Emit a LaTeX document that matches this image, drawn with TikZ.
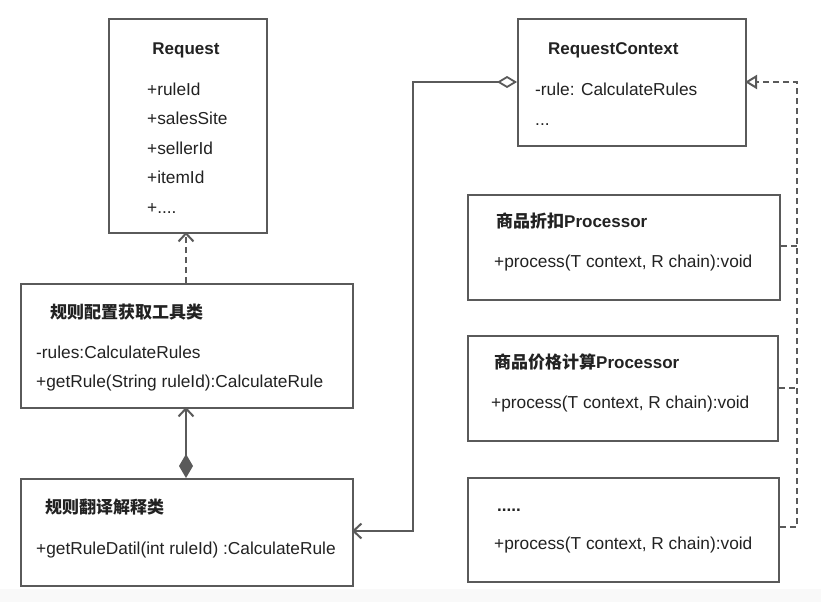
\documentclass[tikz,border=0pt]{standalone}
\usepackage{fontspec}
\setmainfont{Liberation Sans}
\newfontfamily\cjk{Noto Sans CJK SC}
\usetikzlibrary{arrows.meta}
\definecolor{linec}{HTML}{5A5A5A}
\definecolor{txtc}{HTML}{222222}
\tikzset{
  box/.style={draw=linec, line width=2pt, fill=white, anchor=north west, inner sep=0pt},
  txt/.style={anchor=base west, inner sep=0pt, text=txtc, font=\fontsize{17.3}{19}\selectfont},
  ttl/.style={anchor=base west, inner sep=0pt, text=txtc, font=\fontsize{17}{19}\selectfont\bfseries},
  conn/.style={draw=linec, line width=1.8pt},
  dashln/.style={draw=linec, line width=1.8pt, dash pattern=on 6pt off 4pt},
  barb/.tip={Straight Barb[length=8pt,width=15pt,line width=2pt]},
}
\begin{document}
\begin{tikzpicture}[x=1pt,y=-1pt]
\useasboundingbox (0,0) rectangle (821,602);
\fill[white] (0,0) rectangle (821,602);
\fill[black!2.5] (0,589) rectangle (821,602);

% boxes
\node[box, minimum width=158pt, minimum height=214pt] (req) at (108,18) {};
\node[box, minimum width=228pt, minimum height=127pt] (ctx) at (517,18) {};
\node[box, minimum width=332pt, minimum height=124pt] (cfg) at (20,283) {};
\node[box, minimum width=332pt, minimum height=107pt] (trn) at (20,478) {};
\node[box, minimum width=312pt, minimum height=105pt] (p1) at (467,194) {};
\node[box, minimum width=310pt, minimum height=105pt] (p2) at (467,335) {};
\node[box, minimum width=311pt, minimum height=104pt] (p3) at (467,477) {};

% Request
\node[ttl, anchor=base] (reqT) at (186,55) {Request};
\node[txt] (reqA1) at (147,95) {+ruleId};
\node[txt] (reqA2) at (147,124) {+salesSite};
\node[txt] (reqA3) at (147,154) {+sellerId};
\node[txt] (reqA4) at (147,183) {+itemId};
\node[txt] (reqA5) at (147,213) {+....};

% RequestContext
\node[ttl] (ctxT) at (548,55) {RequestContext};
\node[txt] (ctxA1) at (535,95) {-rule: CalculateRules};
\node[txt] (ctxA2) at (535,125) {...};

% cfg
\node[ttl] (cfgT) at (50,318) {{\cjk\bfseries 规则配置获取工具类}};
\node[txt] (cfgA1) at (36,358) {-rules:CalculateRules};
\node[txt] (cfgA2) at (36,387) {+getRule(String ruleId):CalculateRule};

% trn
\node[ttl] (trnT) at (45,513) {{\cjk\bfseries 规则翻译解释类}};
\node[txt] (trnA1) at (36,554) {+getRuleDatil(int ruleId) :CalculateRule};

% processors
\node[ttl] (p1T) at (496,227) {{\cjk\bfseries 商品折扣}Processor};
\node[txt] (p1A) at (494,267) {+process(T context, R chain):void};
\node[ttl] (p2T) at (494,368) {{\cjk\bfseries 商品价格计算}Processor};
\node[txt] (p2A) at (491,408) {+process(T context, R chain):void};
\node[ttl] (p3T) at (497,511) {.....};
\node[txt] (p3A) at (494,549) {+process(T context, R chain):void};

% connectors
\coordinate (c1) at (797,82);
\coordinate (c2) at (797,527);
\coordinate (ctxR) at (745,82);
\coordinate (ctxL) at (517,82);
\coordinate (k1) at (413,82);
\coordinate (k2) at (413,531);
\coordinate (trnR) at (352,531);
\coordinate (reqB) at (186,232);
\coordinate (cfgTop) at (186,283);
\coordinate (cfgB) at (186,407);
\coordinate (trnTop) at (186,478);

\draw[dashln, -barb] (cfgTop) -- (reqB);
\draw[conn, barb-{Diamond[length=24pt,width=14pt]}] (cfgB) -- (trnTop);
\draw[conn, {Diamond[open,length=20pt,width=12pt]}-barb] (ctxL) -- (k1) -- (k2) -- (trnR);
\draw[dashln] (p1.east |- 0,246) -- (797,246);
\draw[dashln] (p2.east |- 0,388) -- (797,388);
\draw[dashln, -{Triangle[open,length=12pt,width=14pt,line width=2pt]}] (p3.east |- c2) -- (c2) -- (c1) -- (ctxR);
\end{tikzpicture}
\end{document}
